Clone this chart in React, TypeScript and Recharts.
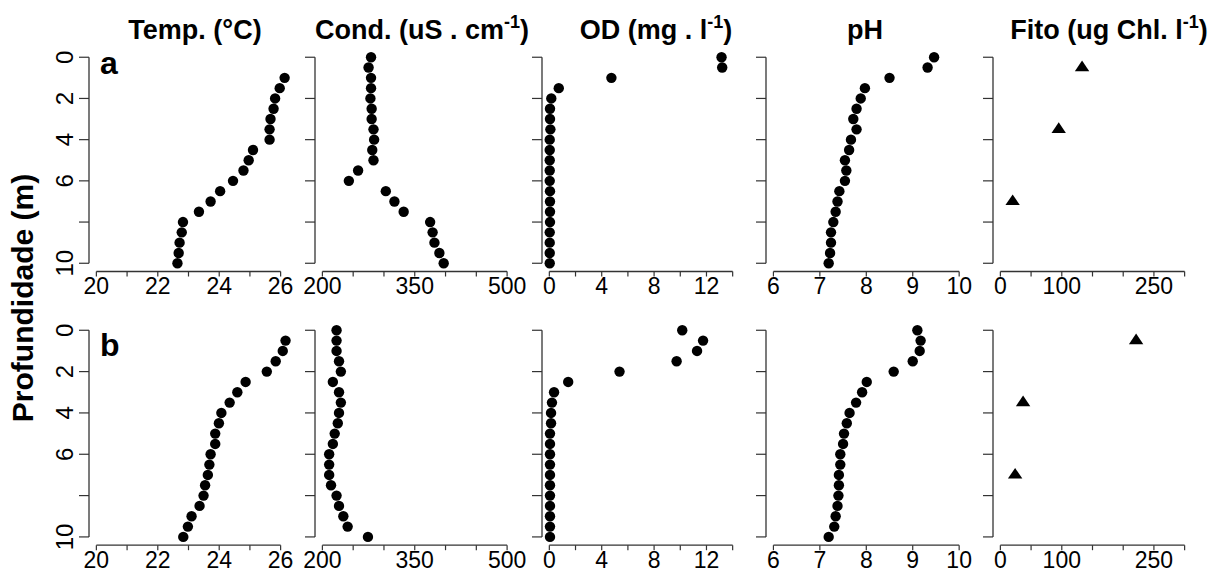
import React from "react";
import { ScatterChart, Scatter, XAxis, YAxis, ReferenceLine } from "recharts";

const FONT = '"Liberation Sans", Arial, Helvetica, sans-serif';
const INK = "#000";
const AXIS = "#333";

// depths (m)
const depthFull = [0, 0.5, 1, 1.5, 2, 2.5, 3, 3.5, 4, 4.5, 5, 5.5, 6, 6.5, 7, 7.5, 8, 8.5, 9, 9.5, 10];
const depthTempA = [1, 1.5, 2, 2.5, 3, 3.5, 4, 4.5, 5, 5.5, 6, 6.5, 7, 7.5, 8, 8.5, 9, 9.5, 10];
const depthTempB = [0.5, 1, 1.5, 2, 2.5, 3, 3.5, 4, 4.5, 5, 5.5, 6, 6.5, 7, 7.5, 8, 8.5, 9, 9.5, 10];
const depthFito = [0.5, 3.5, 7];

// profile a
const tempA = [26.13, 25.97, 25.82, 25.77, 25.67, 25.64, 25.64, 25.1, 24.96, 24.79, 24.45, 24.03, 23.72, 23.34, 22.82, 22.78, 22.71, 22.68, 22.64];
const condA = [279, 275, 279, 279, 278, 280, 280, 283, 284, 281, 283, 258, 243, 303, 317, 332, 375, 379, 382, 390, 397];
const odA = [13.15, 13.2, 4.74, 0.72, 0.15, 0.05, 0.05, 0.08, 0.03, 0.03, 0.03, 0.03, 0.03, 0.05, 0.05, 0.05, 0.05, 0.03, 0.03, 0.03, 0.03];
const phA = [9.46, 9.32, 8.5, 7.97, 7.88, 7.79, 7.72, 7.79, 7.67, 7.63, 7.54, 7.57, 7.54, 7.42, 7.38, 7.34, 7.29, 7.24, 7.24, 7.22, 7.19];
const fitoA = [133, 95, 20];

// profile b
const tempB = [26.16, 26.07, 25.84, 25.55, 24.86, 24.59, 24.34, 24.07, 23.99, 23.87, 23.87, 23.72, 23.68, 23.63, 23.54, 23.49, 23.36, 23.1, 22.98, 22.83];
const condB = [223, 223, 223, 227, 230, 217, 227, 230, 227, 225, 220, 217, 211, 211, 211, 214, 223, 227, 234, 241, 274];
const odB = [10.15, 11.74, 11.28, 9.72, 5.36, 1.44, 0.36, 0.2, 0.13, 0.13, 0.05, 0.05, 0.05, 0.05, 0.05, 0.05, 0.05, 0.05, 0.05, 0.05, 0.05];
const phB = [9.1, 9.17, 9.15, 9.0, 8.59, 8.01, 7.91, 7.78, 7.64, 7.58, 7.52, 7.5, 7.44, 7.44, 7.41, 7.41, 7.4, 7.38, 7.34, 7.31, 7.19];
const fitoB = [221, 37, 24];

// axes
const depthTicks = [0, 2, 4, 6, 8, 10];
const depthLabels = [0, 2, 4, 6, 10];
const tempTicks = [20, 21, 22, 23, 24, 25, 26];
const tempLabels = [20, 22, 24, 26];
const condTicks = [200, 250, 300, 350, 400, 450, 500];
const condLabels = [200, 350, 500];
const odTicks = [0, 2, 4, 6, 8, 10, 12, 14];
const odLabels = [0, 4, 8, 12];
const phTicks = [6, 7, 8, 9, 10];
const phLabels = [6, 7, 8, 9, 10];
const fitoTicks = [0, 50, 100, 150, 200, 250, 300];
const fitoLabels = [0, 100, 250];

type Col = {
  ticks: number[];
  labels: number[];
  left: number;
  width: number;
  shape: "dot" | "tri";
};

// R-style axis range: 4% padding beyond the first/last tick
const pad = (t: number[]): [number, number] => {
  const lo = t[0];
  const hi = t[t.length - 1];
  const d = (hi - lo) * 0.04;
  return [lo - d, hi + d];
};

const cols: Col[] = [
  { ticks: tempTicks, labels: tempLabels, left: 89.3, width: 199, shape: "dot" },
  { ticks: condTicks, labels: condLabels, left: 314.9, width: 199.5, shape: "dot" },
  { ticks: odTicks, labels: odLabels, left: 541.7, width: 198, shape: "dot" },
  { ticks: phTicks, labels: phLabels, left: 765.9, width: 200.6, shape: "dot" },
  { ticks: fitoTicks, labels: fitoLabels, left: 992.6, width: 199, shape: "tri" },
];

// xh = room under the plot for the x tick labels (bottom row stops at the page edge)
const rows = [
  { top: 49.1, height: 222.5, xh: 40, letter: "a", letterY: 73.5 },
  { top: 321.6, height: 223.2, xh: 27, letter: "b", letterY: 356 },
];

const zip = (xs: number[], ys: number[]) => xs.map((x, i) => ({ x, y: ys[i] }));

const panelData = [
  [zip(tempA, depthTempA), zip(condA, depthFull), zip(odA, depthFull), zip(phA, depthFull), zip(fitoA, depthFito)],
  [zip(tempB, depthTempB), zip(condB, depthFull), zip(odB, depthFull), zip(phB, depthFull), zip(fitoB, depthFito)],
];

const YW = 80;

function Dot(props: { cx?: number; cy?: number }) {
  const { cx = 0, cy = 0 } = props;
  return <circle cx={cx} cy={cy} r={5.2} fill={INK} />;
}

function Tri(props: { cx?: number; cy?: number }) {
  const { cx = 0, cy = 0 } = props;
  return (
    <polygon
      points={`${cx},${cy - 7} ${cx + 7.2},${cy + 3.6} ${cx - 7.2},${cy + 3.6}`}
      fill={INK}
    />
  );
}

function Panel({ col, row, ci, data }: { col: Col; row: (typeof rows)[0]; ci: number; data: { x: number; y: number }[] }) {
  const xd = pad(col.ticks);
  const yd = pad(depthTicks);
  const showY = ci === 0;
  return (
    <div style={{ position: "absolute", left: col.left - YW, top: row.top }}>
      <ScatterChart
        width={YW + col.width + 12}
        height={row.height + row.xh}
        margin={{ top: 0, right: 12, bottom: 0, left: 0 }}
      >
        <XAxis
          type="number"
          dataKey="x"
          domain={xd}
          ticks={col.ticks}
          height={row.xh}
          axisLine={false}
          tickSize={5}
          tickMargin={2}
          tickLine={{ stroke: AXIS, strokeWidth: 1.2 }}
          interval={0}
          tick={(p: any) =>
            col.labels.includes(p.payload.value) ? (
              <text x={p.x} y={p.y + 15.5} textAnchor="middle" fontSize={23} fontFamily={FONT} fill={INK}>
                {p.payload.value}
              </text>
            ) : (
              <g />
            )
          }
        />
        <YAxis
          type="number"
          dataKey="y"
          reversed
          domain={yd}
          ticks={depthTicks}
          width={YW}
          axisLine={false}
          tickSize={10}
          tickMargin={6}
          tickLine={{ stroke: AXIS, strokeWidth: 1.2 }}
          interval={0}
          tick={(p: any) =>
            showY && depthLabels.includes(p.payload.value) ? (
              <text
                x={p.x}
                y={p.y}
                transform={`rotate(-90, ${p.x}, ${p.y})`}
                textAnchor="middle"
                fontSize={24}
                fontFamily={FONT}
                fill={INK}
              >
                {p.payload.value}
              </text>
            ) : (
              <g />
            )
          }
        />
        <ReferenceLine
          segment={[
            { x: xd[0], y: depthTicks[0] },
            { x: xd[0], y: depthTicks[depthTicks.length - 1] },
          ]}
          stroke={AXIS}
          strokeWidth={1.3}
          ifOverflow="visible"
        />
        <ReferenceLine
          segment={[
            { x: col.ticks[0], y: yd[1] },
            { x: col.ticks[col.ticks.length - 1], y: yd[1] },
          ]}
          stroke={AXIS}
          strokeWidth={1.3}
          ifOverflow="visible"
        />
        <Scatter
          data={data}
          isAnimationActive={false}
          shape={col.shape === "tri" ? <Tri /> : <Dot />}
        />
      </ScatterChart>
    </div>
  );
}

const titles = [
  { cx: 195, parts: ["Temp. (°C)"] },
  { cx: 422, parts: ["Cond. (uS . cm", "-1", ")"] },
  { cx: 656, parts: ["OD (mg . l", "-1", ")"] },
  { cx: 865, parts: ["pH"] },
  { cx: 1109, parts: ["Fito (ug Chl. l", "-1", ")"] },
];

export default function App() {
  return (
    <div
      style={{
        position: "absolute",
        left: 0,
        top: 0,
        width: 1219,
        height: 572,
        background: "#fff",
        fontFamily: FONT,
      }}
    >
      {rows.map((row, ri) =>
        cols.map((col, ci) => (
          <Panel key={`${ri}-${ci}`} col={col} row={row} ci={ci} data={panelData[ri][ci]} />
        ))
      )}
      <svg
        width={1219}
        height={572}
        style={{ position: "absolute", left: 0, top: 0, pointerEvents: "none" }}
      >
        {titles.map((t, i) => (
          <text
            key={i}
            x={t.cx}
            y={39}
            textAnchor="middle"
            fontSize={27}
            fontWeight="bold"
            fontFamily={FONT}
            fill={INK}
          >
            {t.parts[0]}
            {t.parts.length > 1 && (
              <>
                <tspan dy={-11} fontSize={18}>
                  {t.parts[1]}
                </tspan>
                <tspan dy={11}>{t.parts[2]}</tspan>
              </>
            )}
          </text>
        ))}
        {rows.map((row) => (
          <text
            key={row.letter}
            x={100}
            y={row.letterY}
            fontSize={32}
            fontWeight="bold"
            fontFamily={FONT}
            fill={INK}
          >
            {row.letter}
          </text>
        ))}
        <text
          x={33}
          y={298}
          transform="rotate(-90, 33, 298)"
          textAnchor="middle"
          fontSize={30}
          fontWeight="bold"
          fontFamily={FONT}
          fill={INK}
        >
          Profundidade (m)
        </text>
      </svg>
    </div>
  );
}
